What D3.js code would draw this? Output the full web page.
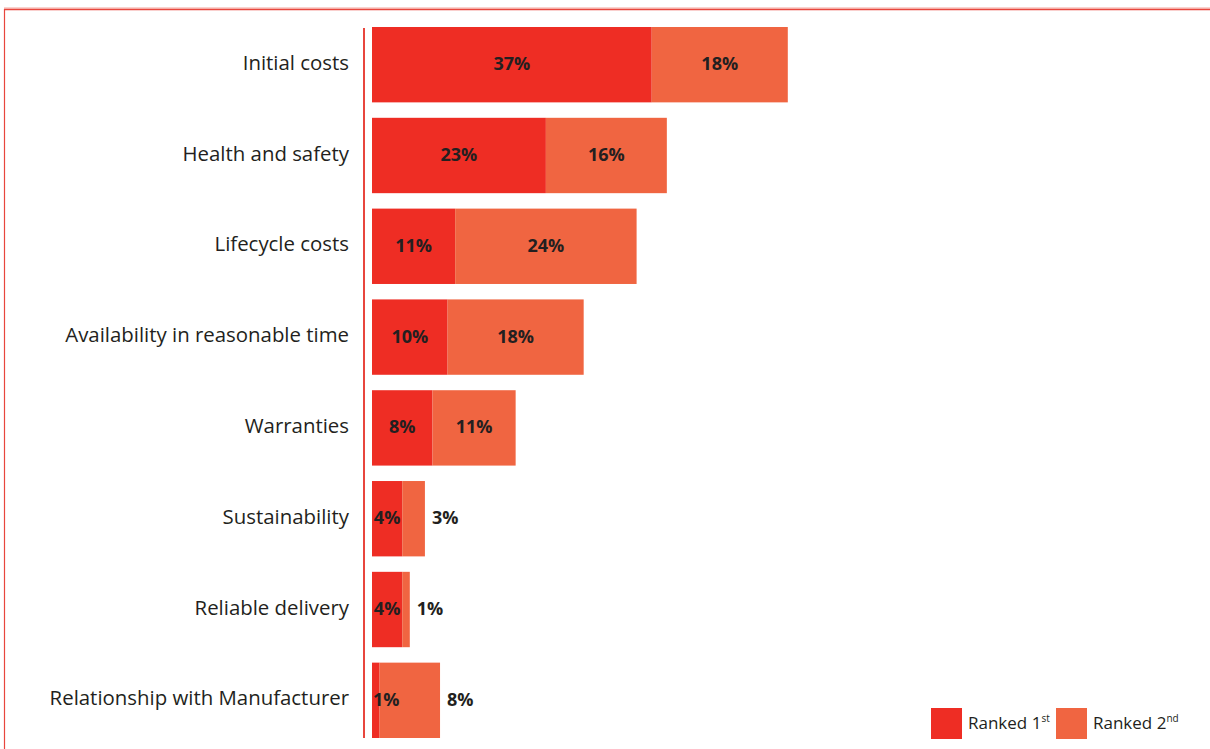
<!DOCTYPE html>
<html>
<head>
<meta charset="utf-8">
<script src="https://cdn.jsdelivr.net/npm/d3@7"></script>
<style>
  html, body { margin: 0; padding: 0; background: #fff; }
  svg { display: block; }
</style>
</head>
<body>
<svg id="chart" width="1210" height="749"></svg>
<script>
// Factors ranked most important (1st) and second most important (2nd)
const categories = [
  "Initial costs",
  "Health and safety",
  "Lifecycle costs",
  "Availability in reasonable time",
  "Warranties",
  "Sustainability",
  "Reliable delivery",
  "Relationship with Manufacturer"
];
const ranked1st = [37, 23, 11, 10, 8, 4, 4, 1];
const ranked2nd = [18, 16, 24, 18, 11, 3, 1, 8];
const seriesNames = ["Ranked 1", "Ranked 2"];
const seriesSup = ["st", "nd"];

const colors = ["#ee2d24", "#f06541"];
const textColor = "#231f20";
const fontFamily = "'Open Sans', 'Noto Sans', sans-serif";

const svg = d3.select("#chart");

// Page frame
svg.append("line").attr("x1", 4).attr("x2", 1210).attr("y1", 8).attr("y2", 8)
  .attr("stroke", "#f4a49c").attr("stroke-width", 1);
svg.append("line").attr("x1", 4).attr("x2", 1210).attr("y1", 9.5).attr("y2", 9.5)
  .attr("stroke", "#e8463d").attr("stroke-width", 1.5);
svg.append("line").attr("x1", 4.5).attr("x2", 4.5).attr("y1", 9).attr("y2", 749)
  .attr("stroke", "#e8463d").attr("stroke-width", 1.2);

const x = d3.scaleLinear().domain([0, 55]).range([372, 372 + 55 * 7.56]);
const y = d3.scaleBand().domain(categories).range([27, 738])
  .paddingInner(0.17).paddingOuter(0);

const rows = categories.map((c, i) => ({
  cat: c,
  segs: [
    { s: 0, v: ranked1st[i], x0: 0, x1: ranked1st[i] },
    { s: 1, v: ranked2nd[i], x0: ranked1st[i], x1: ranked1st[i] + ranked2nd[i] }
  ]
}));

const g = svg.append("g");

const row = g.selectAll("g.row").data(rows).join("g").attr("class", "row");

row.selectAll("rect").data(d => d.segs.map(s => ({ ...s, cat: d.cat })))
  .join("rect")
  .attr("x", d => x(d.x0))
  .attr("y", d => y(d.cat))
  .attr("width", d => x(d.x1) - x(d.x0))
  .attr("height", y.bandwidth())
  .attr("fill", d => colors[d.s]);

// Value labels: inside the segment, or just past the bar end when it is short
const labelSize = 18;
row.selectAll("text.val").data(d => d.segs.map(s => ({ ...s, cat: d.cat })))
  .join("text")
  .attr("class", "val")
  .attr("font-family", fontFamily)
  .attr("font-weight", 700)
  .attr("font-size", labelSize)
  .attr("fill", textColor)
  .attr("dominant-baseline", "central")
  .attr("y", d => y(d.cat) + y.bandwidth() / 2 - 1.5)
  .text(d => d.v + "%")
  .each(function (d) {
    const t = d3.select(this);
    const w = this.getComputedTextLength();
    const a = x(d.x0), b = x(d.x1);
    if (d.s === 0) {
      t.attr("x", Math.max(a + 1, (a + b) / 2 - w / 2));
    } else if (b - a >= 70) {
      t.attr("x", (a + b) / 2 - w / 2);
    } else {
      t.attr("x", b + 7);
    }
  });

// Category axis
g.append("line")
  .attr("x1", 364).attr("x2", 364)
  .attr("y1", 28).attr("y2", 738)
  .attr("stroke", "#e8463d").attr("stroke-width", 2);

const yAxis = d3.axisLeft(y).tickSize(0).tickPadding(0);
const axisG = g.append("g").attr("transform", "translate(349,0)").call(yAxis);
axisG.select(".domain").remove();
axisG.selectAll("text")
  .attr("font-family", fontFamily)
  .attr("font-size", 20.4)
  .attr("dy", "0.25em")
  .attr("fill", textColor);

// Legend
const legend = svg.append("g");
const legendX = [931, 1056];
seriesNames.forEach((name, i) => {
  legend.append("rect")
    .attr("x", legendX[i]).attr("y", 708)
    .attr("width", 31).attr("height", 31)
    .attr("fill", colors[i]);
  const t = legend.append("text")
    .attr("x", legendX[i] + 37).attr("y", 729)
    .attr("font-family", fontFamily)
    .attr("font-size", 17)
    .attr("fill", textColor)
    .text(name);
  t.append("tspan").attr("font-size", 10).attr("dy", -7).text(seriesSup[i]);
});
</script>
</body>
</html>
